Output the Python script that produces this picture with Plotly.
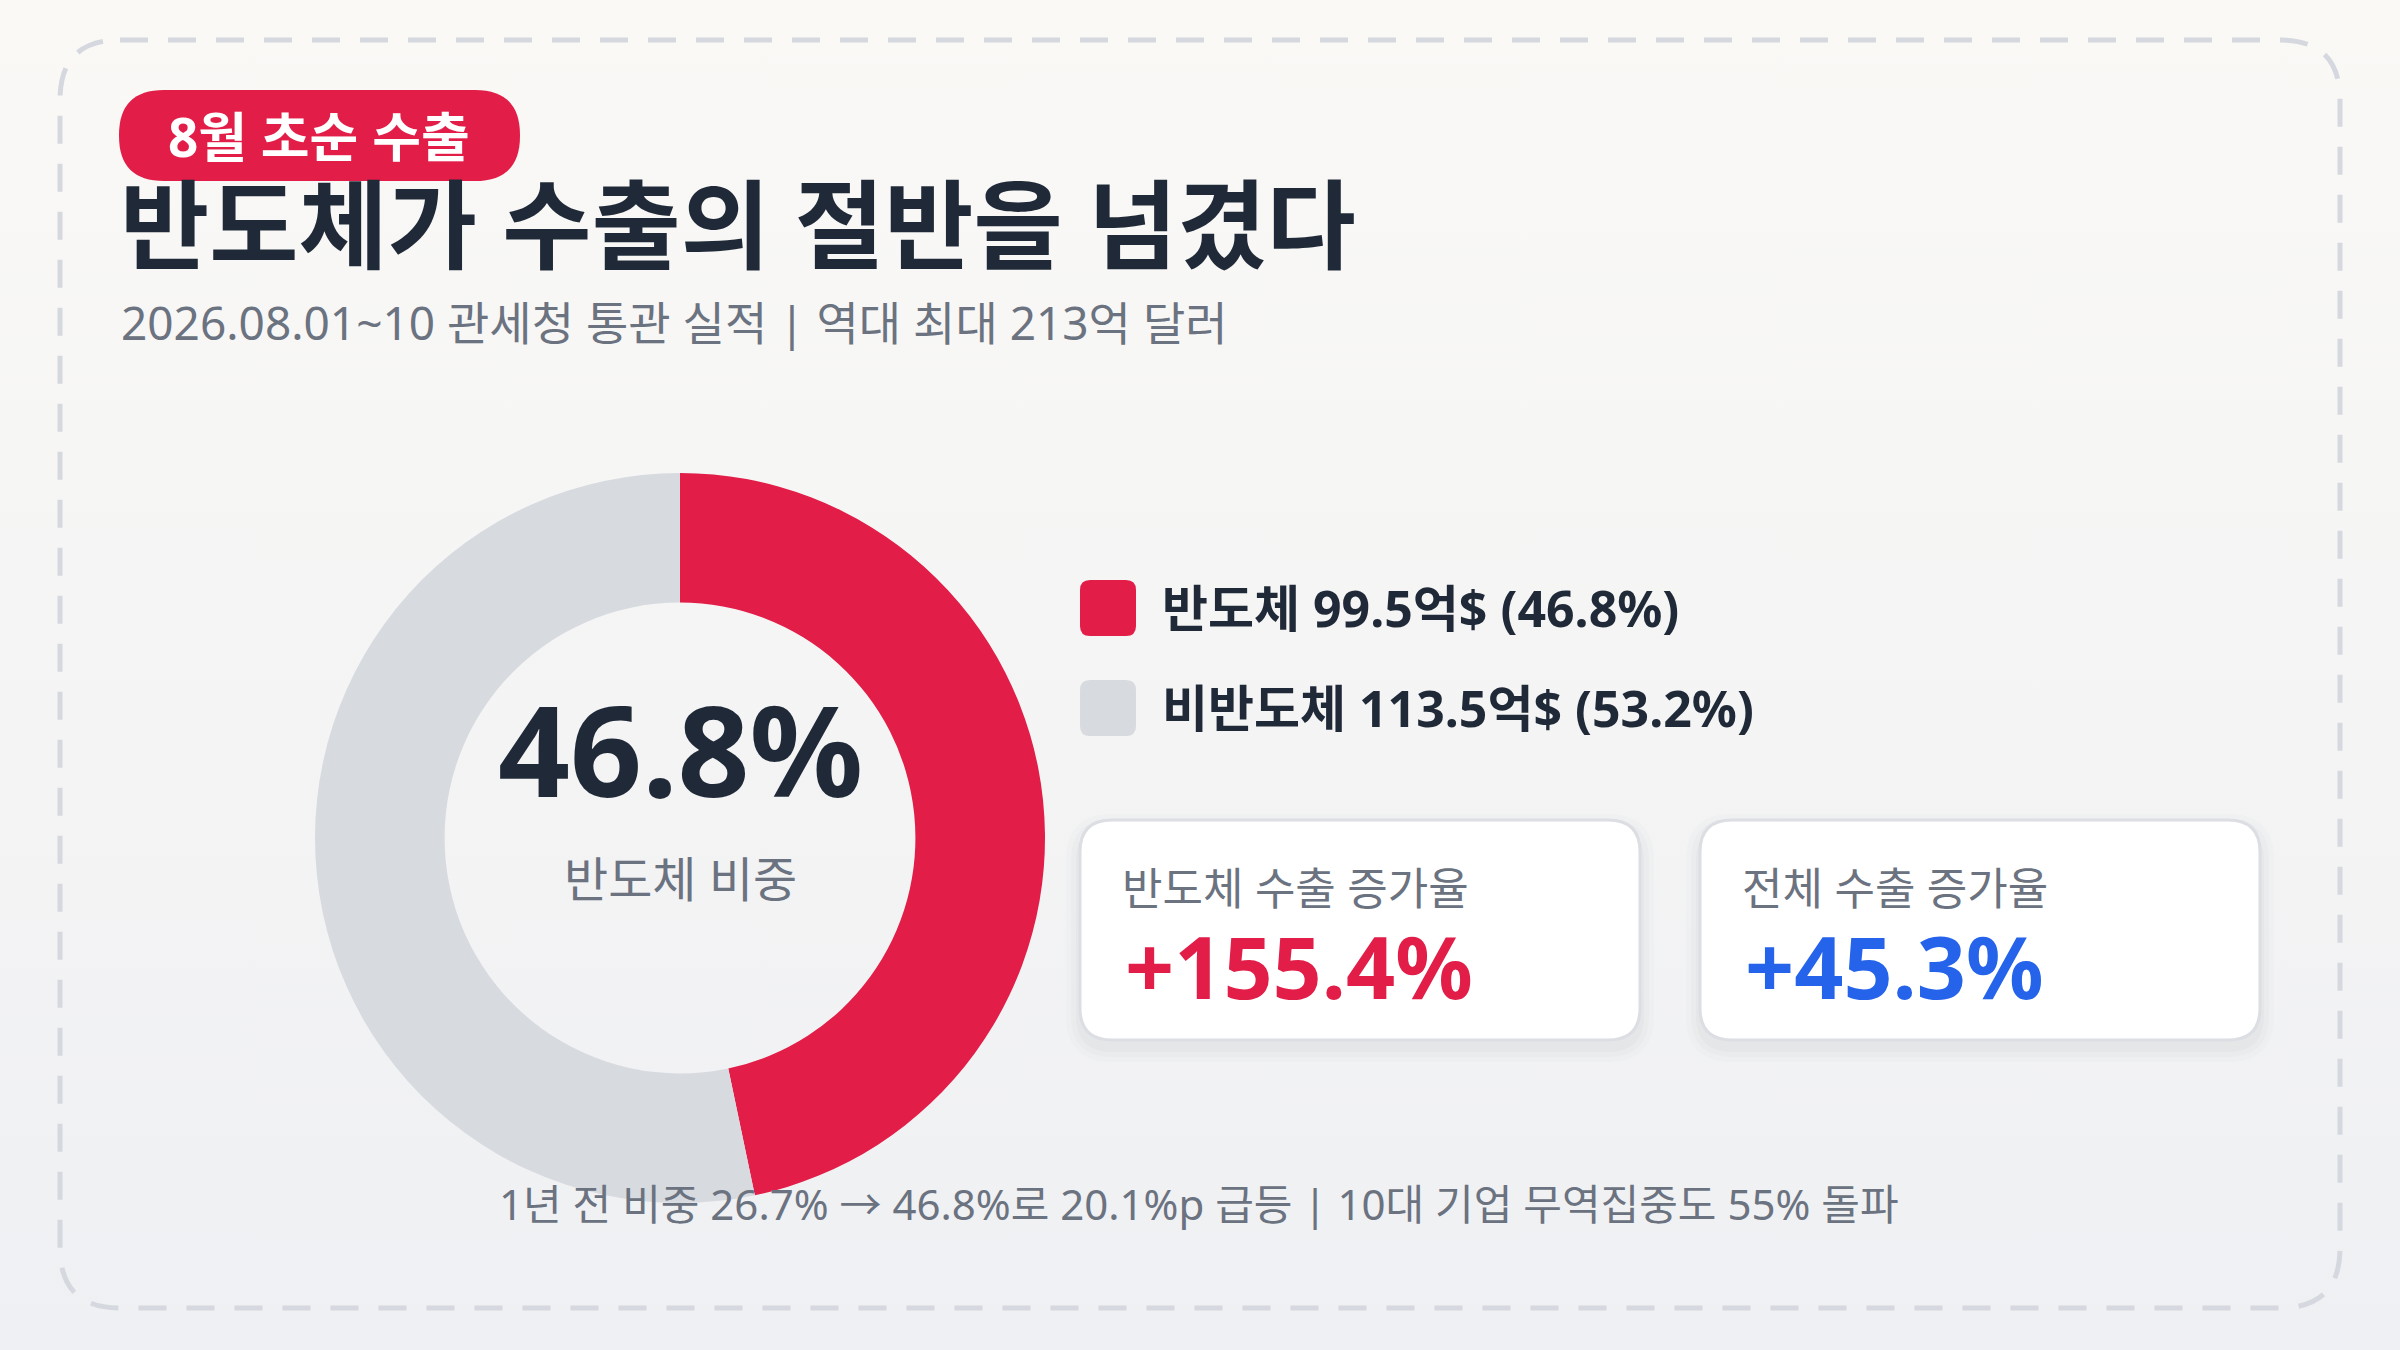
import base64
import plotly.graph_objects as go

# ---------------- data ----------------
categories = ["반도체", "비반도체"]
export_values = [99.5, 113.5]          # 억 달러
share_pct = [46.8, 53.2]               # %
slice_colors = ["#e11d48", "#d7dadf"]

growth_labels = ["반도체 수출 증가율", "전체 수출 증가율"]
growth_values = [155.4, 45.3]
growth_colors = ["#e11d48", "#2563eb"]

badge_text = "8월 초순 수출"
title_text = "반도체가 수출의 절반을 넘겼다"
subtitle_text = "2026.08.01~10 관세청 통관 실적 | 역대 최대 213억 달러"
center_value = "46.8%"
center_label = "반도체 비중"
footer_text = "1년 전 비중 26.7% → 46.8%로 20.1%p 급등 | 10대 기업 무역집중도 55% 돌파"

# ---------------- layout helpers ----------------
W, H = 2400, 1350
FONT = "Noto Sans, Noto Sans CJK KR, sans-serif"
DARK = "#1f2937"
GRAY = "#6b7280"


def px(x):
    return x / W


def py(y):
    return 1 - y / H


def rrect_path(x0, y0, x1, y1, r):
    X0, X1 = px(x0), px(x1)
    Y0, Y1 = py(y0), py(y1)
    rx, ry = r / W, r / H
    return (f"M{X0+rx},{Y0} L{X1-rx},{Y0} Q{X1},{Y0} {X1},{Y0-ry} "
            f"L{X1},{Y1+ry} Q{X1},{Y1} {X1-rx},{Y1} L{X0+rx},{Y1} "
            f"Q{X0},{Y1} {X0},{Y1+ry} L{X0},{Y0-ry} Q{X0},{Y0} {X0+rx},{Y0} Z")


shapes = []
annotations = []


def text(x, y, s, size, color, bold=False, xanchor="left", yanchor="middle"):
    annotations.append(dict(
        x=px(x), y=py(y), xref="paper", yref="paper", text=(f"<b>{s}</b>" if bold else s),
        showarrow=False, xanchor=xanchor, yanchor=yanchor,
        font=dict(family=FONT, size=size, color=color)))


# background gradient
svg = (f"<svg xmlns='http://www.w3.org/2000/svg' width='{W}' height='{H}'>"
       "<defs><linearGradient id='g' x1='0' y1='0' x2='0' y2='1'>"
       "<stop offset='0' stop-color='#faf9f6'/><stop offset='1' stop-color='#eff0f3'/>"
       "</linearGradient></defs>"
       f"<rect width='{W}' height='{H}' fill='url(#g)'/></svg>")
bg_uri = "data:image/svg+xml;base64," + base64.b64encode(svg.encode()).decode()

# dashed frame
shapes.append(dict(type="path", xref="paper", yref="paper",
                   path=rrect_path(60, 40, 2340, 1308, 60),
                   line=dict(color="#d5d8de", width=5, dash="28px,20px"),
                   fillcolor="rgba(0,0,0,0)", layer="below"))

# badge
shapes.append(dict(type="path", xref="paper", yref="paper",
                   path=rrect_path(119, 90, 520, 181, 45),
                   line=dict(width=0), fillcolor="#e11d48", layer="below"))
text(319, 136, badge_text, 53, "white", bold=True, xanchor="center")

# title / subtitle
text(118, 223, title_text, 97, DARK, bold=True)
text(119, 322, subtitle_text, 46, GRAY)

# legend
leg_y = [608, 708]
for i, cat in enumerate(categories):
    shapes.append(dict(type="path", xref="paper", yref="paper",
                       path=rrect_path(1080, leg_y[i] - 28, 1136, leg_y[i] + 28, 10),
                       line=dict(width=0), fillcolor=slice_colors[i], layer="below"))
    text(1160, leg_y[i], f"{cat} {export_values[i]}억$ ({share_pct[i]}%)", 50, DARK, bold=True)

# cards
card_x = [1080, 1700]
card_w = 560
for i in range(2):
    x0, x1 = card_x[i], card_x[i] + card_w
    y0, y1 = 820, 1040
    for k, a in enumerate([0.025, 0.02, 0.015]):
        g = 4 + 5 * k
        shapes.append(dict(type="path", xref="paper", yref="paper",
                           path=rrect_path(x0 - g, y0 - g + 8, x1 + g, y1 + g + 8, 32 + g),
                           line=dict(width=0), fillcolor=f"rgba(30,40,60,{a})", layer="below"))
    shapes.append(dict(type="path", xref="paper", yref="paper",
                       path=rrect_path(x0, y0, x1, y1, 32),
                       line=dict(color="#dcdee3", width=3), fillcolor="white", layer="below"))
    text(x0 + 40, 888, growth_labels[i], 44, GRAY)
    text(x0 + 43, 966, f"+{growth_values[i]}%", 86, growth_colors[i], bold=True)

# donut centre texts
text(680, 748, center_value, 126, DARK, bold=True, xanchor="center")
text(680, 878, center_label, 48, GRAY, xanchor="center")

# footer
text(1199, 1203, footer_text, 42, GRAY, xanchor="center")

# ---------------- figure ----------------
cx, cy, R = 680, 838, 365
fig = go.Figure(go.Pie(
    labels=categories, values=export_values, hole=0.645,
    marker=dict(colors=slice_colors, line=dict(width=0)),
    sort=False, direction="clockwise", rotation=0,
    textinfo="none", hoverinfo="skip", showlegend=False,
    domain=dict(x=[px(cx - R), px(cx + R)], y=[py(cy + R), py(cy - R)]),
))

fig.update_layout(
    width=W, height=H, margin=dict(l=0, r=0, t=0, b=0),
    paper_bgcolor="#f5f5f4", plot_bgcolor="rgba(0,0,0,0)",
    images=[dict(source=bg_uri, xref="paper", yref="paper", x=0, y=1, sizex=1, sizey=1,
                 xanchor="left", yanchor="top", sizing="stretch", layer="below")],
    shapes=shapes, annotations=annotations, showlegend=False,
)

fig.write_html("out.html", config={"displayModeBar": False},
               post_script="document.body.style.margin='0';document.body.style.background='#f0f1f3';")
